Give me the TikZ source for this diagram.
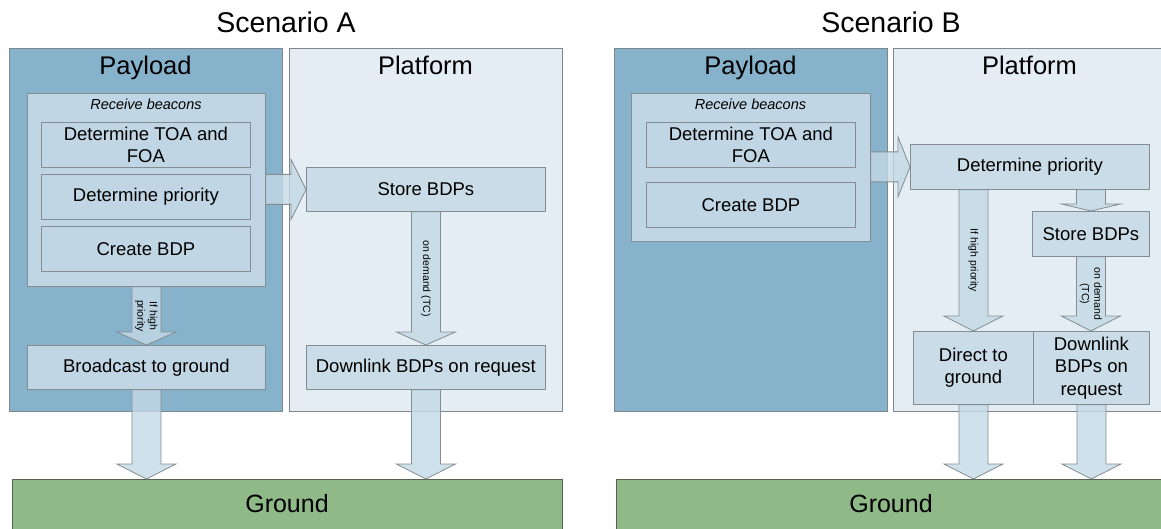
\documentclass[tikz,border=0pt]{standalone}
\usepackage{fontspec}
\setmainfont{Liberation Sans}
\usetikzlibrary{calc}

\definecolor{payloadblue}{HTML}{87B2CC}
\definecolor{platformbg}{HTML}{E5EDF4}
\definecolor{groupfill}{HTML}{C0D6E4}
\definecolor{platstep}{HTML}{CADCE7}
\definecolor{arrowfill}{HTML}{C3D9E6}
\definecolor{groundgreen}{HTML}{8FBA87}
\definecolor{edgegray}{HTML}{7E868E}
\definecolor{boxedge}{HTML}{858C92}
\definecolor{groundedge}{HTML}{56644F}

\tikzset{
  lane/.style={draw=edgegray, line width=0.9pt, inner sep=0pt, anchor=north west},
  payloadlane/.style={lane, fill=payloadblue},
  platformlane/.style={lane, fill=platformbg},
  group/.style={draw=boxedge, line width=0.8pt, fill=groupfill, inner sep=0pt, anchor=north west},
  stepbox/.style={draw=boxedge, line width=0.8pt, fill=groupfill, inner sep=0pt,
    anchor=north west, align=center, font=\fontsize{18.5}{22.5}\selectfont},
  platbox/.style={stepbox, fill=platstep},
  ground/.style={draw=groundedge, line width=0.9pt, fill=groundgreen, inner sep=0pt,
    anchor=north west},
  scen/.style={anchor=base, inner sep=0pt, font=\fontsize{28.5}{33}\selectfont},
  lanehead/.style={anchor=base, inner sep=0pt, font=\fontsize{25.5}{30}\selectfont},
  groundhead/.style={anchor=base, inner sep=0pt, font=\fontsize{25}{30}\selectfont},
  grouphead/.style={anchor=base, inner sep=0pt, font=\fontsize{14.5}{17}\itshape},
  blockarrow/.style={draw=boxedge, line width=0.8pt, fill=arrowfill, fill opacity=0.8,
    line join=miter},
  lbl/.style={rotate=-90, inner sep=0pt, align=center, font=\fontsize{10.5}{12.5}\selectfont},
}

% downward block arrow: shaft from #1 to the tip #2, head length #3
\newcommand{\vblock}[3]{%
  \path[blockarrow] let \p1=(#1), \p2=(#2) in
    (\x2-14.5pt,\y1) -- (\x2-14.5pt,\y2+#3pt) -- (\x2-29.5pt,\y2+#3pt) -- (\x2,\y2)
    -- (\x2+29.5pt,\y2+#3pt) -- (\x2+14.5pt,\y2+#3pt) -- (\x2+14.5pt,\y1) -- cycle;}
% rightward block arrow: shaft from #1 to the tip #2, head length #3
\newcommand{\hblock}[3]{%
  \path[blockarrow] let \p1=(#1), \p2=(#2) in
    (\x1,\y2+15pt) -- (\x2-#3pt,\y2+15pt) -- (\x2-#3pt,\y2+30pt) -- (\x2,\y2)
    -- (\x2-#3pt,\y2-30pt) -- (\x2-#3pt,\y2-15pt) -- (\x1,\y2-15pt) -- cycle;}

\begin{document}
\begin{tikzpicture}[x=1pt, y=-1pt]
\useasboundingbox (0,0) rectangle (1161,529);
\clip (0,0) rectangle (1161,529);

% ---------------- Scenario A ----------------
\node[scen] (scA) at (286,32.5) {Scenario A};
\node[payloadlane, minimum width=273pt, minimum height=363pt] (payA) at (9,48) {};
\node[platformlane, minimum width=273pt, minimum height=363pt] (platA) at (289,48) {};
\node[lanehead] (payAt) at (145.5,74.5) {Payload};
\node[lanehead] (platAt) at (425.5,74.5) {Platform};

\node[group, minimum width=238pt, minimum height=193pt] (grpA) at (27,93) {};
\node[grouphead] (rcvA) at (146,110) {Receive beacons};
\node[stepbox, minimum width=209pt, minimum height=45pt] (toaA) at (41,122) {Determine TOA and\\FOA};
\node[stepbox, minimum width=209pt, minimum height=45pt] (priA) at (41,174) {Determine priority};
\node[stepbox, minimum width=209pt, minimum height=45pt] (bdpA) at (41,226) {Create BDP};
\node[stepbox, minimum width=238pt, minimum height=44pt] (bcA) at (27,345) {Broadcast to ground};

\node[platbox, minimum width=239pt, minimum height=44pt] (storeA) at (306,167) {Store BDPs};
\node[platbox, minimum width=239pt, minimum height=44pt] (dlA) at (306,345) {Downlink BDPs on request};

\node[ground, minimum width=550pt, minimum height=52pt] (gndA) at (12,479) {};
\node[groundhead] (gndAt) at (287,512.5) {Ground};

\hblock{grpA.east}{storeA.west}{15}
\vblock{grpA.south -| bcA.north}{bcA.north}{13}
\node[lbl] (lblA1) at ($(grpA.south -| bcA.north)!0.5!(bcA.north)$) {If high\\priority};
\vblock{storeA.south}{dlA.north}{13}
\node[lbl] (lblA2) at ($(storeA.south)!0.5!(dlA.north)$) {on demand (TC)};
\vblock{bcA.south}{bcA.south |- gndA.north}{15}
\vblock{dlA.south}{dlA.south |- gndA.north}{15}

% ---------------- Scenario B ----------------
\node[scen] (scB) at (891,32.5) {Scenario B};
\node[payloadlane, minimum width=273pt, minimum height=363pt] (payB) at (614,48) {};
\node[platformlane, minimum width=273pt, minimum height=363pt] (platB) at (893,48) {};
\node[lanehead] (payBt) at (750.5,74.5) {Payload};
\node[lanehead] (platBt) at (1029.5,74.5) {Platform};

\node[group, minimum width=239pt, minimum height=148pt] (grpB) at (631,93) {};
\node[grouphead] (rcvB) at (750.5,110) {Receive beacons};
\node[stepbox, minimum width=209pt, minimum height=45pt] (toaB) at (646,122) {Determine TOA and\\FOA};
\node[stepbox, minimum width=209pt, minimum height=45pt] (bdpB) at (646,182) {Create BDP};

\node[platbox, minimum width=239pt, minimum height=45pt] (priB) at (910,144) {Determine priority};
\node[platbox, minimum width=117pt, minimum height=45pt] (storeB) at (1032,211) {Store BDPs};
\node[platbox, minimum width=120pt, minimum height=73pt] (dirB) at (913,331) {Direct to\\ground};
\node[platbox, minimum width=116pt, minimum height=73pt] (dlB) at (1033,331) {Downlink\\BDPs on\\request};

\node[ground, minimum width=550pt, minimum height=52pt] (gndB) at (616,479) {};
\node[groundhead] (gndBt) at (891,512.5) {Ground};

\hblock{grpB.east}{priB.west}{12}
\vblock{priB.south -| dirB.north}{dirB.north}{15}
\node[lbl] (lblB1) at ($(priB.south -| dirB.north)!0.5!(dirB.north)$) {If high priority};
\vblock{priB.south -| storeB.north}{storeB.north}{7}
\vblock{storeB.south}{storeB.south |- dlB.north}{15}
\node[lbl] (lblB2) at ($(storeB.south)!0.5!(storeB.south |- dlB.north)$) {on demand\\(TC)};
\vblock{dirB.south}{dirB.south |- gndB.north}{15}
\vblock{dlB.south}{dlB.south |- gndB.north}{15}
\end{tikzpicture}
\end{document}
